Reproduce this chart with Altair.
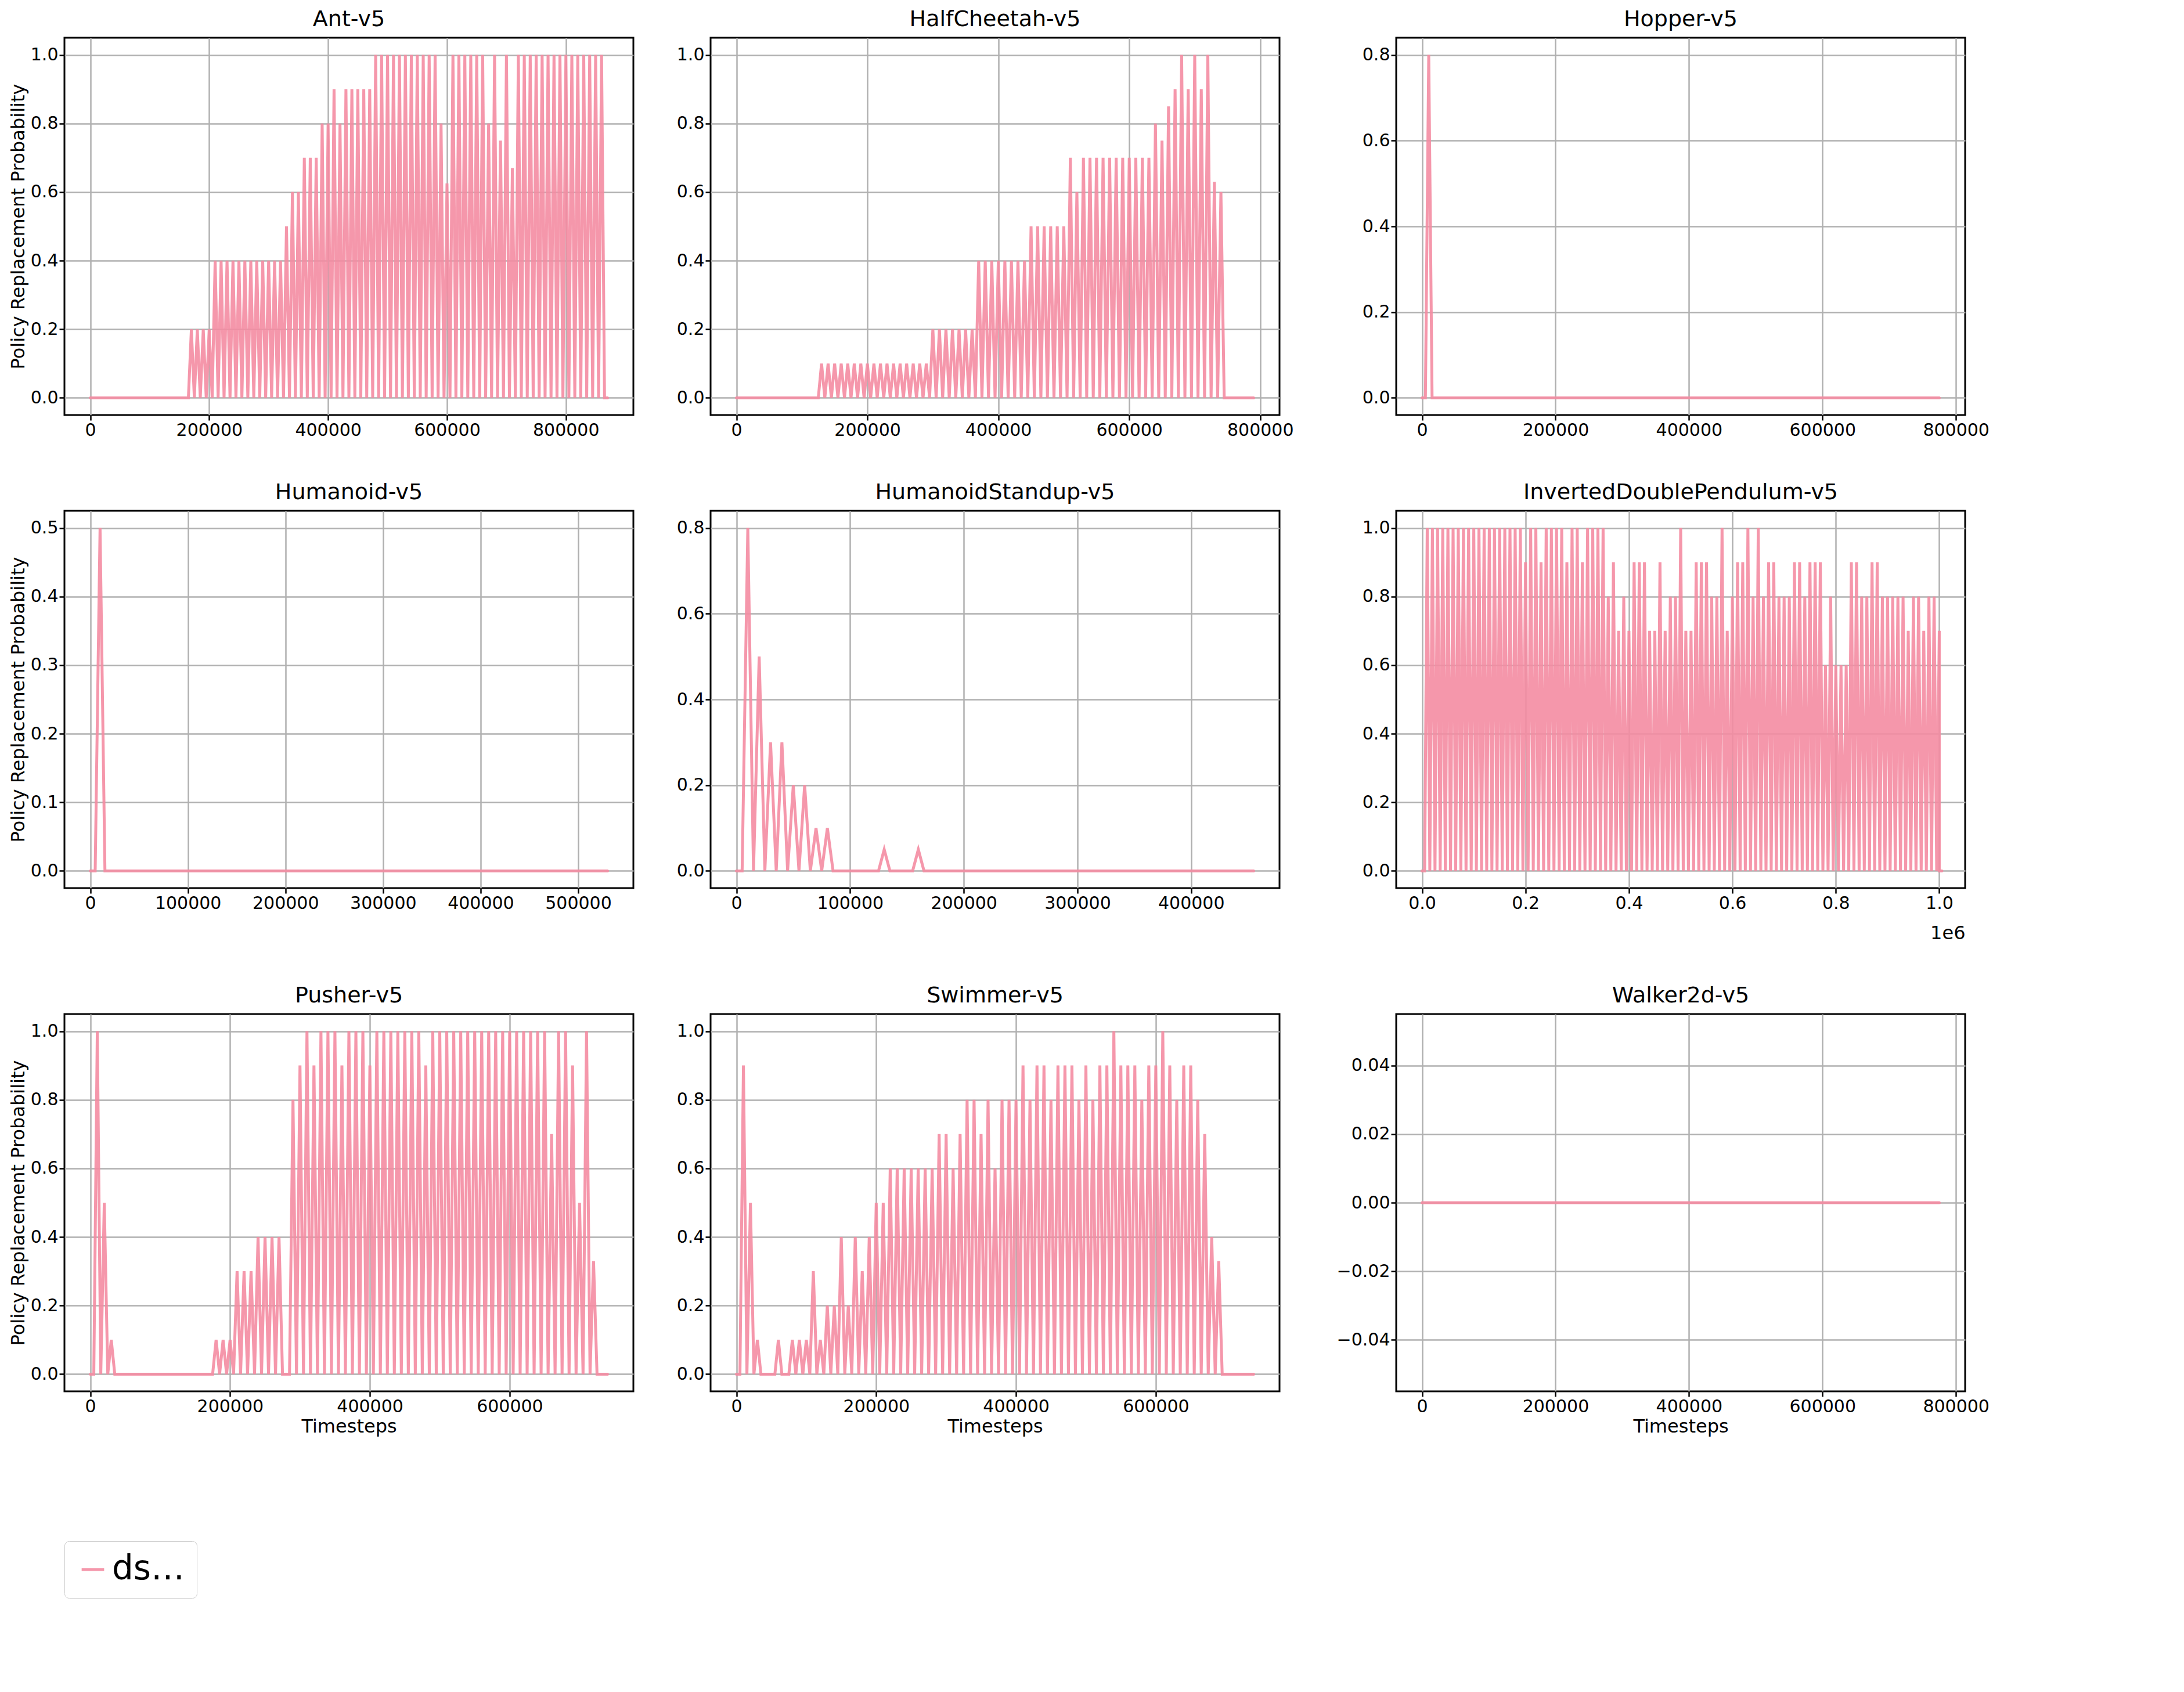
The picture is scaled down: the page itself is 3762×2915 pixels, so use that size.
import altair as alt
import pandas as pd

# spike values at every 10000 timesteps (first value at x=0)
step = 10000
ant = ([0.0] * 17 + [0.2] * 4 + [0.4] * 12 + [0.5, 0.6, 0.6, 0.7, 0.7, 0.7, 0.8, 0.8, 0.9, 0.8]
       + [0.9] * 5 + [1.0] * 11 + [0.8, 0.625] + [1.0] * 6 + [0.8, 1.0, 0.75, 1.0, 0.67] + [1.0] * 15)
ant_end = 870000
cheetah = ([0.0] * 13 + [0.1] * 17 + [0.2] * 7 + [0.4] * 8 + [0.5] * 6 + [0.7, 0.6] + [0.7] * 11
           + [0.8, 0.75, 0.85, 0.9, 1.0, 0.9, 1.0, 0.9, 1.0, 0.63, 0.6])
cheetah_end = 790000
hopper = [0.0, 0.8]
hopper_end = 775000
humanoid = [0.0, 0.5]
humanoid_end = 530000
standup = [0.0, 0.8, 0.5, 0.3, 0.3, 0.2, 0.2, 0.1, 0.1, 0, 0, 0, 0, 0.05, 0, 0, 0.05]
standup_end = 455000
idp = ([0.0] + [1.0] * 19 + [0.9, 1.0, 1.0, 0.9, 1.0, 1.0, 1.0, 1.0, 0.9, 1.0, 1.0, 0.9, 1.0, 1.0, 1.0, 1.0,
       0.8, 0.9, 0.7, 0.8, 0.7, 0.9, 0.9, 0.9, 0.7, 0.7, 0.9, 0.7, 0.8, 0.8, 1.0, 0.7, 0.7, 0.9, 0.9, 0.9,
       0.8, 0.8, 1.0, 0.7, 0.8, 0.9, 0.9, 1.0, 0.8, 1.0, 0.8, 0.9, 0.9, 0.8, 0.8, 0.8, 0.9, 0.9, 0.8,
       0.9, 0.9, 0.9, 0.6, 0.8, 0.6, 0.6, 0.6, 0.9, 0.9, 0.8, 0.8, 0.9, 0.9, 0.8, 0.8, 0.8, 0.8, 0.8,
       0.7, 0.8, 0.8, 0.7, 0.8, 0.8, 0.7])
idp_end = 1000000
pusher = ([0.0, 1.0, 0.5, 0.1] + [0.0] * 14 + [0.1, 0.1, 0.1, 0.3, 0.3, 0.3, 0.4, 0.4, 0.4, 0.4, 0.0, 0.8, 0.9,
          1.0, 0.9, 1.0, 1.0, 1.0, 0.9, 1.0, 1.0, 1.0, 0.9, 1.0, 1.0, 1.0, 1.0, 1.0, 1.0, 1.0, 0.9]
          + [1.0] * 17 + [0.7, 1.0, 1.0, 0.9, 0.5, 1.0, 0.33])
pusher_end = 740000
swimmer = ([0.0, 0.9, 0.5, 0.1, 0.0, 0.0, 0.1, 0.0, 0.1, 0.1, 0.1, 0.3, 0.1, 0.2, 0.2, 0.4, 0.2, 0.4, 0.3, 0.4,
           0.5, 0.5] + [0.6] * 7 + [0.7, 0.7, 0.6, 0.7, 0.8, 0.8, 0.7, 0.8, 0.6, 0.8, 0.8, 0.8, 0.9, 0.8, 0.9,
           0.9, 0.8, 0.9, 0.9, 0.9, 0.8, 0.9, 0.8, 0.9, 0.9, 1.0, 0.9, 0.9, 0.9, 0.8, 0.9, 0.9, 1.0, 0.9,
           0.8, 0.9, 0.9, 0.8, 0.7, 0.4, 0.33])
swimmer_end = 740000
walker = [0.0]
walker_end = 775000

titles = ["Ant-v5", "HalfCheetah-v5", "Hopper-v5", "Humanoid-v5", "HumanoidStandup-v5",
          "InvertedDoublePendulum-v5", "Pusher-v5", "Swimmer-v5", "Walker2d-v5"]
series = [(ant, ant_end), (cheetah, cheetah_end), (hopper, hopper_end), (humanoid, humanoid_end),
          (standup, standup_end), (idp, idp_end), (pusher, pusher_end), (swimmer, swimmer_end),
          (walker, walker_end)]
y_domains = [[-0.05, 1.05], [-0.05, 1.05], [-0.04, 0.84], [-0.025, 0.525], [-0.04, 0.84],
             [-0.05, 1.05], [-0.05, 1.05], [-0.05, 1.05], [-0.055, 0.055]]
ticks_01 = [0.0, 0.2, 0.4, 0.6, 0.8, 1.0]
ticks_08 = [0.0, 0.2, 0.4, 0.6, 0.8]
ticks_05 = [0.0, 0.1, 0.2, 0.3, 0.4, 0.5]
ticks_w = [-0.04, -0.02, 0.0, 0.02, 0.04]
y_ticks = [ticks_01, ticks_01, ticks_08, ticks_05, ticks_08, ticks_01, ticks_01, ticks_01, ticks_w]
y_formats = [".1f"] * 8 + [".2f"]

color = "#f48ca2"
panels = []
for i, (title, (vals, end)) in enumerate(zip(titles, series)):
    xs, ys = [], []
    for k, v in enumerate(vals):
        xs += [k * step, k * step + step / 2]
        ys += [v, 0.0]
    xs.append(end)
    ys.append(0.0)
    df = pd.DataFrame({"x": xs, "y": ys, "s": "dsunrise"})
    col, row = i % 3, i // 3
    xaxis = dict(grid=True, tickCount=5, format="d")
    if row == 2:
        xaxis["title"] = "Timesteps"
    else:
        xaxis["title"] = ""
    if title.startswith("Inverted"):
        xaxis = dict(title="1e6", titleAnchor="end", titleAlign="right", titleY=62,
                     labelExpr="format(datum.value / 1e6, '.1f')",
                     values=[0, 200000, 400000, 600000, 800000, 1000000])
    yaxis = dict(values=y_ticks[i], format=y_formats[i],
                 title="Policy Replacement Probability" if col == 0 else "")
    ch = alt.Chart(df, title=title).mark_line(strokeWidth=5, opacity=0.9, strokeCap="round").encode(
        x=alt.X("x:Q", scale=alt.Scale(domain=[-end * 0.05, end * 1.05], nice=False, zero=False),
                axis=alt.Axis(**xaxis)),
        y=alt.Y("y:Q", scale=alt.Scale(domain=y_domains[i], nice=False, zero=False),
                axis=alt.Axis(**yaxis)),
        color=alt.Color("s:N", scale=alt.Scale(range=[color]),
                        legend=alt.Legend(title=None, orient="bottom", symbolType="stroke",
                                          symbolStrokeWidth=5, symbolSize=1500, labelFontSize=58,
                                          padding=20, strokeColor="#cccccc", cornerRadius=8,
                                          offset=180)),
    ).properties(width=980, height=650)
    panels.append(ch)

chart = alt.concat(*panels, columns=3, spacing=70).configure_view(
    stroke="black", strokeWidth=3
).configure_axis(
    labelFontSize=30, titleFontSize=32, titleFontWeight="normal", gridColor="#b0b0b0",
    gridWidth=2.5, domain=False, tickColor="black", tickWidth=2.5, tickSize=9, labelColor="black",
    titleColor="black", labelFont="DejaVu Sans", titleFont="DejaVu Sans"
).configure_title(fontSize=38, fontWeight="normal", font="DejaVu Sans", offset=12).configure_legend(
    labelFont="DejaVu Sans"
)

chart.save("out.html", embed_options={"renderer": "svg", "actions": False})
